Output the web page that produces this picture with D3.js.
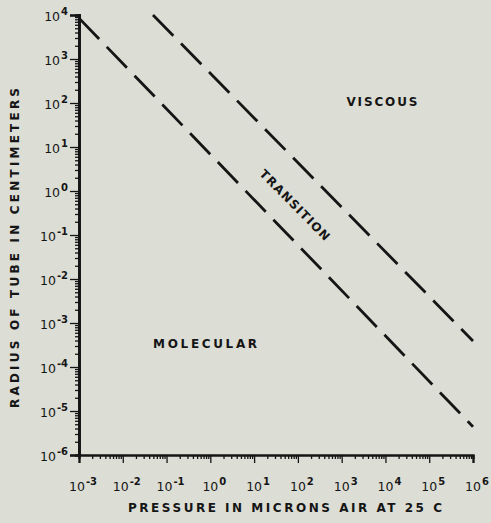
<!DOCTYPE html>
<html>
<head>
<meta charset="utf-8">
<script src="https://cdn.jsdelivr.net/npm/d3@7/dist/d3.min.js"></script>
<style>
  html, body { margin: 0; padding: 0; background: #dcddd5; }
  svg { display: block; }
  text { font-family: "DejaVu Sans", "Liberation Sans", sans-serif; font-weight: bold; fill: #151515; }
</style>
</head>
<body>
<svg id="chart" width="491" height="523"></svg>
<script>
// Pressure (microns of air at 25 C) axis decades
const pressureExponents = [-3, -2, -1, 0, 1, 2, 3, 4, 5, 6];
// Tube radius (cm) axis decades
const radiusExponents = [-6, -5, -4, -3, -2, -1, 0, 1, 2, 3, 4];

// Flow-regime boundaries: [pressure, radius] end points
const molecularBoundary = [[1e-3, 8500], [1e6, 4.4e-6]];
const viscousBoundary   = [[0.049, 1e4], [1e6, 3.9e-4]];

// Region names placed at [pressure, radius]
const regionLabels = [
  { text: "VISCOUS",    p: 8.3e3, r: 105,    width: 71,  angle: 0 },
  { text: "MOLECULAR",  p: 0.76,  r: 3.3e-4, width: 104, angle: 0 },
  { text: "TRANSITION", p: 85,    r: 0.48,   width: 94,  angle: 45.5 }
];

const xTitle = "PRESSURE IN MICRONS AIR AT 25 C";
const yTitle = "RADIUS OF TUBE IN CENTIMETERS";

const svg = d3.select("#chart");
const ink = "#151515";

const x = d3.scaleLog().domain([1e-3, 1e6]).range([79, 473]);
const y = d3.scaleLog().domain([1e-6, 1e4]).range([455, 15]);

const xMajor = pressureExponents.map(e => Math.pow(10, e));
const yMajor = radiusExponents.map(e => Math.pow(10, e));
const minorOf = (majors) => {
  const out = [];
  for (let i = 0; i < majors.length - 1; i++)
    for (let k = 2; k <= 9; k++) out.push(majors[i] * k);
  return out;
};

// ---- x axis ----
const gx = svg.append("g").attr("transform", `translate(0,${y(1e-6)})`);
gx.append("g").call(d3.axisBottom(x).tickValues(minorOf(xMajor)).tickSize(4).tickFormat(() => ""));
gx.append("g").call(d3.axisBottom(x).tickValues(xMajor).tickSize(8).tickFormat(() => ""));
gx.selectAll(".domain").attr("stroke", ink).attr("stroke-width", 2.2);
gx.selectAll(".tick line").attr("stroke", ink).attr("stroke-width", 1.3);

// ---- y axis ----
const gy = svg.append("g").attr("transform", `translate(${x(1e-3)},0)`);
gy.append("g").call(d3.axisLeft(y).tickValues(minorOf(yMajor)).tickSize(4).tickFormat(() => ""));
gy.append("g").call(d3.axisRight(y).tickValues(minorOf(yMajor)).tickSize(2).tickFormat(() => ""));
gy.append("g").call(d3.axisLeft(y).tickValues(yMajor).tickSize(9).tickFormat(() => ""));
gy.selectAll(".domain").attr("stroke", ink).attr("stroke-width", 2.4);
gy.selectAll(".tick line").attr("stroke", ink).attr("stroke-width", 1.3);

// Power-of-ten labels with superscript exponents
function powLabel(sel, e) {
  sel.append("tspan").attr("font-size", 12.5).attr("font-weight", "normal").text("10");
  sel.append("tspan").attr("font-size", 10).attr("dy", -6).attr("dx", 1)
    .text(e < 0 ? "-" + Math.abs(e) : String(e));
}

pressureExponents.forEach(e => {
  svg.append("text")
    .attr("x", x(Math.pow(10, e)) + 4)
    .attr("y", 491)
    .attr("text-anchor", "middle")
    .call(powLabel, e);
});

radiusExponents.forEach(e => {
  svg.append("text")
    .attr("x", 68)
    .attr("y", y(Math.pow(10, e)) + 6)
    .attr("text-anchor", "end")
    .call(powLabel, e);
});

// ---- axis titles ----
svg.append("text")
  .attr("x", 285).attr("y", 512)
  .attr("text-anchor", "middle")
  .attr("font-size", 12)
  .attr("textLength", 314).attr("lengthAdjust", "spacing")
  .text(xTitle);

svg.append("text")
  .attr("transform", "translate(19,248) rotate(-90)")
  .attr("text-anchor", "middle")
  .attr("font-size", 12)
  .attr("textLength", 320).attr("lengthAdjust", "spacing")
  .text(yTitle);

// ---- regime boundaries ----
const line = d3.line().x(d => x(d[0])).y(d => y(d[1]));
[molecularBoundary, viscousBoundary].forEach(pts => {
  svg.append("path")
    .datum(pts)
    .attr("d", line)
    .attr("fill", "none")
    .attr("stroke", ink)
    .attr("stroke-width", 2.8)
    .attr("stroke-dasharray", "29 11");
});

// ---- region names ----
regionLabels.forEach(l => {
  svg.append("text")
    .attr("transform", `translate(${x(l.p)},${y(l.r)}) rotate(${l.angle})`)
    .attr("text-anchor", "middle")
    .attr("dy", "0.35em")
    .attr("font-size", 12)
    .attr("textLength", l.width).attr("lengthAdjust", "spacing")
    .text(l.text);
});
</script>
</body>
</html>
